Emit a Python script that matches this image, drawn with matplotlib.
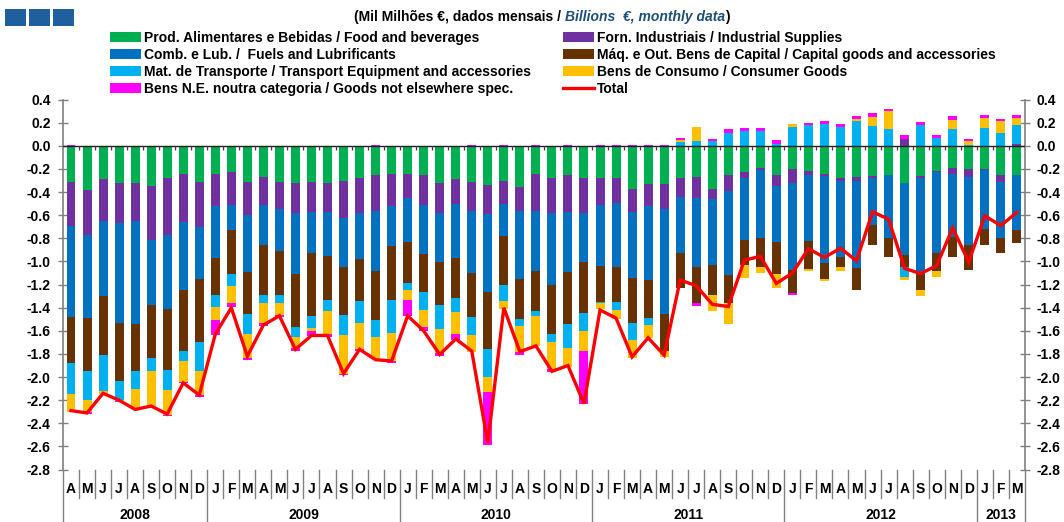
import numpy as np
import matplotlib
matplotlib.use("Agg")
import matplotlib.pyplot as plt
from matplotlib.patches import Rectangle, Patch
from matplotlib.lines import Line2D
import matplotlib.transforms as mtransforms

plt.rcParams['font.family'] = ['Liberation Sans', 'DejaVu Sans']
plt.rcParams['axes.unicode_minus'] = False

# ---------------- data ----------------
months = ["A", "M", "J", "J", "A", "S", "O", "N", "D"] + \
         ["J", "F", "M", "A", "M", "J", "J", "A", "S", "O", "N", "D"] * 4 + \
         ["J", "F", "M"]
years = ["2008", "2009", "2010", "2011", "2012", "2013"]
year_counts = [9, 12, 12, 12, 12, 3]

food = [-0.31, -0.385, -0.29, -0.32, -0.32, -0.345, -0.28, -0.24, -0.31, -0.24, -0.23, -0.31,
        -0.27, -0.31, -0.32, -0.31, -0.32, -0.30, -0.28, -0.25, -0.24, -0.24, -0.25, -0.32,
        -0.29, -0.31, -0.34, -0.30, -0.36, -0.24, -0.28, -0.25, -0.28, -0.28, -0.28, -0.37,
        -0.33, -0.33, -0.28, -0.27, -0.37, -0.25, -0.23, -0.19, -0.25, -0.20, -0.22, -0.24,
        -0.28, -0.27, -0.26, -0.25, -0.32, -0.26, -0.22, -0.19, -0.20, -0.20, -0.25, -0.25]
industrial = [-0.38, -0.385, -0.36, -0.345, -0.33, -0.47, -0.49, -0.42, -0.39, -0.28, -0.28, -0.29,
              -0.24, -0.24, -0.26, -0.26, -0.25, -0.32, -0.30, -0.31, -0.28, -0.21, -0.26, -0.26,
              -0.21, -0.25, -0.25, -0.20, -0.20, -0.325, -0.305, -0.325, -0.305, -0.23, -0.21, -0.20,
              -0.19, -0.22, -0.16, -0.18, -0.09, -0.14, -0.05, -0.02, -0.10, -0.12, -0.03, -0.02,
              -0.02, -0.03, -0.015, -0.005, 0.063, -0.015, -0.01, -0.05, -0.07, -0.005, -0.06, 0.02]
fuels = [-0.79, -0.72, -0.65, -0.87, -0.89, -0.56, -0.64, -0.59, -0.45, -0.45, -0.22, -0.49,
         -0.35, -0.36, -0.53, -0.36, -0.385, -0.43, -0.40, -0.52, -0.35, -0.38, -0.425, -0.425,
         -0.47, -0.54, -0.67, -0.28, -0.59, -0.52, -0.62, -0.52, -0.42, -0.53, -0.56, -0.57,
         -0.64, -0.90, -0.49, -0.60, -0.57, -0.73, -0.53, -0.59, -0.48, -0.75, -0.575, -0.75,
         -0.66, -0.76, -0.41, -0.54, -0.62, -0.83, -0.70, -0.55, -0.59, -0.51, -0.49, -0.48]
capital = [-0.40, -0.46, -0.51, -0.50, -0.41, -0.46, -0.53, -0.52, -0.55, -0.32, -0.38, -0.365,
           -0.43, -0.38, -0.46, -0.54, -0.38, -0.41, -0.365, -0.425, -0.46, -0.36, -0.33, -0.37,
           -0.35, -0.38, -0.50, -0.42, -0.345, -0.345, -0.42, -0.45, -0.44, -0.31, -0.30, -0.39,
           -0.33, -0.32, -0.30, -0.305, -0.26, -0.24, -0.22, -0.25, -0.28, -0.20, -0.24, -0.14,
           -0.09, -0.19, -0.17, -0.17, -0.11, -0.14, -0.15, -0.17, -0.21, -0.14, -0.13, -0.11]
transport = [-0.27, -0.25, -0.31, -0.16, -0.155, -0.115, -0.175, -0.095, -0.25, -0.105, -0.105, -0.17,
             -0.07, -0.07, -0.085, -0.105, -0.09, -0.18, -0.19, -0.15, -0.29, -0.06, -0.155, -0.21,
             -0.12, -0.155, -0.24, -0.145, -0.06, -0.04, -0.07, -0.20, -0.155, -0.01, -0.07, -0.15,
             -0.06, 0.0, 0.035, 0.04, 0.04, 0.115, 0.13, 0.13, 0.017, 0.167, 0.178, 0.19,
             0.167, 0.218, 0.172, 0.144, -0.086, 0.178, 0.069, 0.144, 0.006, 0.155, 0.115, 0.164]
consumer = [-0.15, -0.105, -0.025, -0.01, -0.165, -0.31, -0.21, -0.175, -0.205, -0.11, -0.145, -0.21,
            -0.175, -0.10, -0.095, -0.03, -0.205, -0.33, -0.22, -0.19, -0.245, -0.085, -0.15, -0.205,
            -0.19, -0.15, -0.125, -0.065, -0.23, -0.26, -0.235, -0.165, -0.17, -0.055, -0.08, -0.155,
            -0.115, -0.055, 0.015, 0.12, -0.14, -0.18, -0.115, -0.05, -0.12, 0.023, -0.017, -0.023,
            -0.03, 0.017, 0.08, 0.155, -0.023, -0.057, -0.057, 0.08, 0.034, 0.086, 0.098, 0.057]
goods_ne = [0.01, -0.015, -0.005, -0.01, -0.01, -0.005, -0.012, -0.01, -0.014, -0.13, -0.03, -0.014,
            -0.02, -0.02, -0.023, -0.037, -0.02, -0.012, -0.017, 0.01, -0.014, -0.135, -0.03, -0.03,
            -0.046, 0.01, -0.46, 0.01, -0.023, 0.01, -0.023, 0.01, -0.46, 0.01, 0.01, 0.01,
            0.01, 0.01, 0.02, -0.03, 0.023, 0.03, 0.026, 0.026, 0.03, -0.023, 0.023, 0.023,
            0.023, 0.023, 0.03, 0.023, 0.03, 0.03, 0.023, 0.03, 0.023, 0.023, 0.023, 0.023]
total = [-2.29, -2.31, -2.14, -2.20, -2.28, -2.25, -2.32, -2.05, -2.155, -1.63, -1.40, -1.82,
         -1.55, -1.47, -1.76, -1.64, -1.64, -1.97, -1.76, -1.85, -1.86, -1.47, -1.60, -1.805,
         -1.67, -1.775, -2.57, -1.40, -1.78, -1.73, -1.95, -1.90, -2.23, -1.42, -1.49, -1.825,
         -1.66, -1.81, -1.16, -1.21, -1.37, -1.39, -0.99, -0.955, -1.19, -1.10, -0.89, -0.965,
         -0.885, -0.995, -0.57, -0.635, -1.06, -1.105, -1.035, -0.71, -1.005, -0.605, -0.69, -0.575]

series = [
    ("Prod. Alimentares e Bebidas / Food and beverages", food, "#00B050"),
    ("Forn. Industriais / Industrial Supplies", industrial, "#7030A0"),
    ("Comb. e Lub. /  Fuels and Lubrificants", fuels, "#0070C0"),
    ("Máq. e Out. Bens de Capital / Capital goods and accessories", capital, "#663300"),
    ("Mat. de Transporte / Transport Equipment and accessories", transport, "#00B0F0"),
    ("Bens de Consumo / Consumer Goods", consumer, "#FFC000"),
    ("Bens N.E. noutra categoria / Goods not elsewhere spec.", goods_ne, "#FF00FF"),
]

# ---------------- figure ----------------
W, H = 1064, 522
fig = plt.figure(figsize=(W / 100, H / 100), dpi=100)
ax_left, ax_right = 62.5 / W, 1025 / W
ax_top, ax_bot = 1 - 99.6 / H, 1 - 469.6 / H
ax = fig.add_axes([ax_left, ax_bot, ax_right - ax_left, ax_top - ax_bot])

n = len(months)
x = np.arange(n)
pos_bottom = np.zeros(n)
neg_bottom = np.zeros(n)
handles = {}
for label, vals, col in series:
    v = np.array(vals, dtype=float)
    bottoms = np.where(v >= 0, pos_bottom, neg_bottom)
    ax.bar(x, v, bottom=bottoms, width=0.56, color=col, edgecolor='none', zorder=2)
    pos_bottom = pos_bottom + np.where(v >= 0, v, 0)
    neg_bottom = neg_bottom + np.where(v < 0, v, 0)
    handles[label] = Patch(facecolor=col, edgecolor='none', label=label)

ax.plot(x, total, color="#FF0000", lw=2.4, zorder=4, solid_joinstyle='miter')
line_handle = Line2D([], [], color="#FF0000", lw=2.4, label="Total")

ax.axhline(0, color='#202020', lw=1.0, zorder=3)
ax.vlines(np.arange(n - 1) + 0.5, -0.035, 0, color='#404040', lw=0.9, zorder=3)

ax.set_xlim(-0.53, n - 0.49)
ax.set_ylim(-2.8, 0.4)
yt = np.round(np.arange(-2.8, 0.41, 0.2), 1)
ax.set_yticks(yt)
ax.set_yticklabels([f"{v:.1f}" if abs(v) > 1e-9 else "0.0" for v in yt],
                   fontsize=10, fontweight='bold')
ax.tick_params(axis='y', which='both', direction='inout', length=7, width=1,
               color='#808080', left=True, right=True, labelleft=True, labelright=True,
               pad=5)
ax.set_xticks([])
for s in ['top', 'bottom']:
    ax.spines[s].set_visible(False)
for s in ['left', 'right']:
    ax.spines[s].set_color('#808080')
    ax.spines[s].set_linewidth(1.2)

# month labels & separators
trans = mtransforms.blended_transform_factory(ax.transData, ax.transAxes)
axh = 370.0
for i, m in enumerate(months):
    ax.text(i, -19.5 / axh, m, transform=trans, ha='center', va='center',
            fontsize=10, fontweight='bold', clip_on=False)
year_edges = list(np.cumsum(year_counts) - 0.5)
for b in np.arange(-1, n) + 0.5:
    long = (b == -0.5) or any(abs(b - e) < 1e-6 for e in year_edges)
    y1 = -52.4 / axh if long else -28 / axh
    ax.plot([b, b], [0, y1], transform=trans, color='#808080', lw=1.0, clip_on=False)
start = 0
for yr, c in zip(years, year_counts):
    ax.text(start + (c - 1) / 2, -45 / axh, yr, transform=trans, ha='center', va='center',
            fontsize=10, fontweight='bold', clip_on=False)
    start += c

# legends (two columns placed separately)
col1 = [series[0][0], series[2][0], series[4][0], series[6][0]]
col2 = [series[1][0], series[3][0], series[5][0]]
leg_kw = dict(frameon=False, handlelength=2.2, handleheight=0.75,
              handletextpad=0.25, labelspacing=0.22, borderpad=0, borderaxespad=0,
              prop={'weight': 'bold', 'size': 10})
leg1 = fig.legend([handles[k] for k in col1], col1, loc='upper left',
                  bbox_to_anchor=(110 / W, 1 - 31 / H), **leg_kw)
leg2 = fig.legend([handles[k] for k in col2] + [line_handle], col2 + ["Total"], loc='upper left',
                  bbox_to_anchor=(563 / W, 1 - 31 / H), **leg_kw)

# logo squares
for x0 in [5, 29, 53]:
    fig.patches.append(Rectangle((x0 / W, 1 - 26 / H), 21 / W, 17 / H,
                                 transform=fig.transFigure, facecolor='#1F5F9E',
                                 edgecolor='none'))

# title in mixed styles
renderer = fig.canvas.get_renderer()
ty = 1 - 17.5 / H
t1 = fig.text(0, ty, "(Mil Milhões €, dados mensais / ", fontsize=10,
              fontweight='bold', va='center', ha='left')
t2 = fig.text(0, ty, "Billions  €, monthly data", fontsize=10, fontweight='bold',
              style='italic', color='#1F4E79', va='center', ha='left')
t3 = fig.text(0, ty, ")", fontsize=10, fontweight='bold', va='center', ha='left')
w1 = t1.get_window_extent(renderer).width
w2 = t2.get_window_extent(renderer).width
w3 = t3.get_window_extent(renderer).width
x_start = 542 - (w1 + w2 + w3) / 2
t1.set_x(x_start / W)
t2.set_x((x_start + w1) / W)
t3.set_x((x_start + w1 + w2) / W)

fig.savefig("out.png", dpi=100)
